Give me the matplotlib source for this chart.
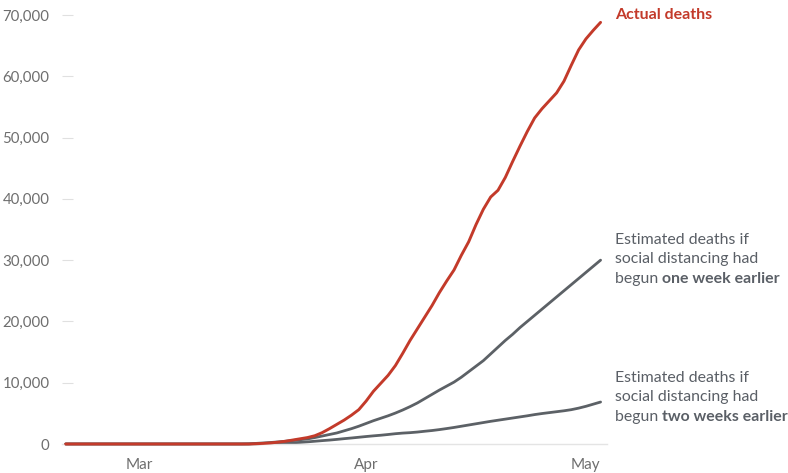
import numpy as np
import matplotlib
matplotlib.use("Agg")
import matplotlib.pyplot as plt

plt.rcParams['font.family'] = ['Lato', 'DejaVu Sans']

# flat start on Feb 20, then one reading per day from Mar 14 to May 3
dates = np.concatenate([np.array(['2020-02-20'], dtype='datetime64[D]'),
                        np.arange('2020-03-14', '2020-05-04', dtype='datetime64[D]')])

actual = [0,
          0, 0, 0, 50, 100, 180, 300, 450, 650, 850,
          1050, 1350, 1850, 2500, 3200, 3900, 4700, 5600, 7000, 8600,
          9900, 11200, 12800, 14800, 16900, 18800, 20700, 22600, 24700, 26600,
          28400, 30800, 33000, 35800, 38300, 40300, 41400, 43500, 46100, 48600,
          51000, 53200, 54700, 56000, 57300, 59200, 61800, 64300, 66100, 67500, 68800]
one_week = [0,
            0, 0, 20, 100, 170, 250, 340, 450, 570, 700,
            830, 1050, 1300, 1550, 1800, 2150, 2500, 2900, 3350, 3800,
            4200, 4600, 5050, 5550, 6100, 6700, 7400, 8100, 8800, 9450,
            10100, 10900, 11800, 12700, 13600, 14700, 15800, 16900, 17900, 19000,
            20000, 21000, 22000, 23000, 24000, 25000, 26000, 27000, 28000, 29000, 30000]
two_weeks = [0,
             0, 0, 10, 30, 60, 90, 120, 160, 200, 260,
             350, 450, 550, 640, 750, 870, 980, 1100, 1220, 1330,
             1430, 1550, 1680, 1780, 1850, 1950, 2080, 2200, 2350, 2520,
             2700, 2900, 3100, 3300, 3500, 3700, 3880, 4060, 4240, 4420,
             4600, 4800, 4970, 5120, 5270, 5420, 5600, 5850, 6150, 6500, 6850]

y_ticks = [0, 10000, 20000, 30000, 40000, 50000, 60000, 70000]
x_ticks = np.array(['2020-03-01', '2020-04-01', '2020-05-01'], dtype='datetime64[D]')
x_labels = ['Mar', 'Apr', 'May']

red = '#c33a2a'
gray = '#5c6166'
label_gray = '#6e6e6e'
text_gray = '#5a5f66'

fig = plt.figure(figsize=(7.88, 4.73), dpi=100)
ax = fig.add_axes([62 / 788, 29 / 473, (607 - 62) / 788, (444 - 15) / 473])

line_kw = dict(solid_capstyle='round', solid_joinstyle='round', clip_on=False)
ax.plot(dates, two_weeks, color=gray, lw=2.0, **line_kw)
ax.plot(dates, one_week, color=gray, lw=2.0, **line_kw)
ax.plot(dates, actual, color=red, lw=2.1, zorder=3, **line_kw)

ax.set_ylim(0, 70000)
ax.set_xlim(np.datetime64('2020-02-19T12'), np.datetime64('2020-05-03T21'))

for s in ['top', 'right', 'left']:
    ax.spines[s].set_visible(False)
ax.spines['bottom'].set_color('#e4e4e4')
ax.spines['bottom'].set_linewidth(1.0)

ax.set_yticks(y_ticks)
ax.set_yticklabels([f'{v:,}' for v in y_ticks])
ax.tick_params(axis='y', direction='in', length=8, width=0.8, color='#e0e0e0',
               labelsize=10.8, labelcolor=label_gray, pad=9)
ax.set_xticks(x_ticks)
ax.set_xticklabels(x_labels)
ax.tick_params(axis='x', length=0, labelsize=11, labelcolor=label_gray, pad=10)

# labels at the right end
fig.text(615 / 788, 1 - 15 / 473, 'Actual deaths', color=red, fontsize=11.5,
         fontweight='bold', va='center', ha='left')

renderer = fig.canvas.get_renderer()


def label_block(y_top, bold_part):
    lines = ['Estimated deaths if', 'social distancing had']
    for i, line in enumerate(lines):
        fig.text(615 / 788, 1 - (y_top + i * 19.5) / 473, line, color=text_gray,
                 fontsize=11.4, va='center', ha='left')
    y3 = 1 - (y_top + 2 * 19.5) / 473
    t = fig.text(615 / 788, y3, 'begun ', color=text_gray, fontsize=11.4,
                 va='center', ha='left')
    bb = t.get_window_extent(renderer=renderer)
    fig.text(bb.x1 / fig.bbox.width, y3, bold_part, color=text_gray, fontsize=11.4,
             fontweight='bold', va='center', ha='left')


label_block(240, 'one week earlier')
label_block(378, 'two weeks earlier')

fig.savefig('out.png', dpi=100)
